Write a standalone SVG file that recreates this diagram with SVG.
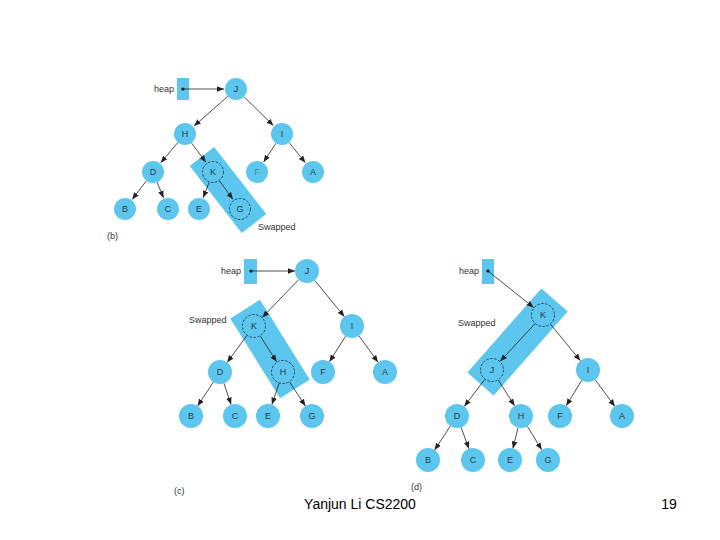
<svg xmlns="http://www.w3.org/2000/svg" width="720" height="540" viewBox="0 0 720 540">
<style>
.n{fill:#5cc6ef}
.sw{fill:#5cc6ef}
.dc{fill:#5cc6ef;stroke:#1a2a33;stroke-width:0.8;stroke-dasharray:2.5 1.5}
.t{font-family:"Liberation Sans",Arial,sans-serif;font-size:9px;fill:#2a3a44;text-anchor:middle}
.lb{font-family:"Liberation Sans",Arial,sans-serif;font-size:9px;fill:#333}
.e line{stroke:#222;stroke-width:0.8;marker-end:url(#ah)}
.hb{fill:#5cc6ef}
.foot{font-family:"Liberation Sans",Arial,sans-serif;font-size:14px;fill:#000}
</style>
<defs>
<marker id="ah" viewBox="0 0 10 10" refX="10" refY="5" markerWidth="7" markerHeight="7" orient="auto" markerUnits="userSpaceOnUse">
<path d="M0,1 L10,5 L0,9 z" fill="#222"/>
</marker>
</defs>
<rect width="720" height="540" fill="#fff"/>

<!-- swapped highlight rectangles -->
<g id="swap-b"><rect class="sw" x="-42.5" y="-15.5" width="85" height="31" transform="translate(228,190) rotate(52.2)"/></g>
<g id="swap-c"><rect class="sw" x="-47" y="-17.5" width="94" height="35" transform="translate(270,349) rotate(58)"/></g>
<g id="swap-d"><rect class="sw" x="-56" y="-17.5" width="112" height="35" transform="translate(517.5,342) rotate(-48.6)"/></g>

<!-- heap boxes -->
<g id="heap-b"><rect class="hb" x="177" y="78" width="12" height="22"/><circle cx="183" cy="89" r="1.6" fill="#111"/><text class="lb" x="174" y="92" text-anchor="end">heap</text></g>
<g id="heap-c"><rect class="hb" x="244" y="259" width="13" height="25"/><circle cx="251" cy="271" r="1.6" fill="#111"/><text class="lb" x="241" y="274" text-anchor="end">heap</text></g>
<g id="heap-d"><rect class="hb" x="482" y="259" width="12" height="25"/><circle cx="488" cy="271" r="1.6" fill="#111"/><text class="lb" x="479" y="274" text-anchor="end">heap</text></g>

<g id="connectors" class="e">
<!-- (b) -->
<line x1="183" y1="89" x2="224" y2="89"/>
<line x1="227.8" y1="96.3" x2="194" y2="126.1"/>
<line x1="243.9" y1="96.7" x2="273.4" y2="125.6"/>
<line x1="177.9" y1="142.4" x2="160.7" y2="162.8"/>
<line x1="191.5" y1="142.9" x2="205.9" y2="162.3"/>
<line x1="276" y1="143.2" x2="263.6" y2="162"/>
<line x1="289" y1="142.5" x2="305.4" y2="162.7"/>
<line x1="146.4" y1="180.8" x2="132.2" y2="199.4"/>
<line x1="157.1" y1="182.2" x2="163.5" y2="197.9"/>
<line x1="209.1" y1="182.3" x2="203.2" y2="197.8"/>
<line x1="219.5" y1="180.9" x2="232.9" y2="199.3"/>
<!-- (c) -->
<line x1="251" y1="271" x2="295" y2="271"/>
<line x1="298.7" y1="279.6" x2="262.3" y2="317.4"/>
<line x1="314.6" y1="280.3" x2="344.4" y2="316.7"/>
<line x1="246.9" y1="335.6" x2="227.1" y2="362.4"/>
<line x1="260.4" y1="336.2" x2="276.6" y2="361.8"/>
<line x1="345.6" y1="336.2" x2="329.4" y2="361.8"/>
<line x1="359" y1="335.8" x2="378" y2="362.2"/>
<line x1="213.4" y1="382" x2="197.6" y2="406"/>
<line x1="223.9" y1="383.4" x2="231.1" y2="404.6"/>
<line x1="279.1" y1="383.4" x2="271.9" y2="404.6"/>
<line x1="289.6" y1="382" x2="305.4" y2="406"/>
<!-- (d) -->
<line x1="488" y1="271" x2="533.6" y2="307.5"/>
<line x1="534.8" y1="323.8" x2="500.2" y2="361.2"/>
<line x1="550.6" y1="324.3" x2="580.4" y2="360.7"/>
<line x1="484.7" y1="379.6" x2="464.3" y2="406.4"/>
<line x1="498.4" y1="380.2" x2="514.6" y2="405.8"/>
<line x1="581.8" y1="380.2" x2="566.2" y2="405.8"/>
<line x1="595.1" y1="379.6" x2="614.9" y2="406.4"/>
<line x1="450.4" y1="426" x2="434.6" y2="450"/>
<line x1="461.1" y1="427.3" x2="468.9" y2="448.7"/>
<line x1="518.1" y1="427.6" x2="512.9" y2="448.4"/>
<line x1="527.3" y1="426.2" x2="541.7" y2="449.8"/>
</g>

<!-- nodes (b) -->
<g id="b-J"><circle class="n" cx="236" cy="89" r="11"/><text class="t" x="236" y="92">J</text></g>
<g id="b-H"><circle class="n" cx="185" cy="134" r="11"/><text class="t" x="185" y="137">H</text></g>
<g id="b-I"><circle class="n" cx="282" cy="134" r="11"/><text class="t" x="282" y="137">I</text></g>
<g id="b-D"><circle class="n" cx="153" cy="172" r="11"/><text class="t" x="153" y="175">D</text></g>
<g id="b-K"><circle class="dc" cx="213" cy="172" r="10.5"/><text class="t" x="213" y="175">K</text></g>
<g id="b-F"><circle class="n" cx="257" cy="172" r="11"/><text class="t" x="257" y="175" fill-opacity="0.5">F</text></g>
<g id="b-A"><circle class="n" cx="313" cy="172" r="11"/><text class="t" x="313" y="175">A</text></g>
<g id="b-B"><circle class="n" cx="125" cy="209" r="11"/><text class="t" x="125" y="212">B</text></g>
<g id="b-C"><circle class="n" cx="168" cy="209" r="11"/><text class="t" x="168" y="212">C</text></g>
<g id="b-E"><circle class="n" cx="199" cy="209" r="11"/><text class="t" x="199" y="212">E</text></g>
<g id="b-G"><circle class="dc" cx="240" cy="209" r="10.5"/><text class="t" x="240" y="212">G</text></g>

<!-- nodes (c) -->
<g id="c-J"><circle class="n" cx="307" cy="271" r="12"/><text class="t" x="307" y="274">J</text></g>
<g id="c-K"><circle class="dc" cx="254" cy="326" r="11.5"/><text class="t" x="254" y="329">K</text></g>
<g id="c-I"><circle class="n" cx="352" cy="326" r="12"/><text class="t" x="352" y="329">I</text></g>
<g id="c-D"><circle class="n" cx="220" cy="372" r="12"/><text class="t" x="220" y="375">D</text></g>
<g id="c-H"><circle class="dc" cx="283" cy="372" r="11.5"/><text class="t" x="283" y="375">H</text></g>
<g id="c-F"><circle class="n" cx="323" cy="372" r="12"/><text class="t" x="323" y="375">F</text></g>
<g id="c-A"><circle class="n" cx="385" cy="372" r="12"/><text class="t" x="385" y="375">A</text></g>
<g id="c-B"><circle class="n" cx="191" cy="416" r="12"/><text class="t" x="191" y="419">B</text></g>
<g id="c-C"><circle class="n" cx="235" cy="416" r="12"/><text class="t" x="235" y="419">C</text></g>
<g id="c-E"><circle class="n" cx="268" cy="416" r="12"/><text class="t" x="268" y="419">E</text></g>
<g id="c-G"><circle class="n" cx="312" cy="416" r="12"/><text class="t" x="312" y="419">G</text></g>

<!-- nodes (d) -->
<g id="d-K"><circle class="dc" cx="543" cy="315" r="11.5"/><text class="t" x="543" y="318">K</text></g>
<g id="d-J"><circle class="dc" cx="492" cy="370" r="11.5"/><text class="t" x="492" y="373">J</text></g>
<g id="d-I"><circle class="n" cx="588" cy="370" r="12"/><text class="t" x="588" y="373">I</text></g>
<g id="d-D"><circle class="n" cx="457" cy="416" r="12"/><text class="t" x="457" y="419">D</text></g>
<g id="d-H"><circle class="n" cx="521" cy="416" r="12"/><text class="t" x="521" y="419">H</text></g>
<g id="d-F"><circle class="n" cx="560" cy="416" r="12"/><text class="t" x="560" y="419">F</text></g>
<g id="d-A"><circle class="n" cx="622" cy="416" r="12"/><text class="t" x="622" y="419">A</text></g>
<g id="d-B"><circle class="n" cx="428" cy="460" r="12"/><text class="t" x="428" y="463">B</text></g>
<g id="d-C"><circle class="n" cx="473" cy="460" r="12"/><text class="t" x="473" y="463">C</text></g>
<g id="d-E"><circle class="n" cx="510" cy="460" r="12"/><text class="t" x="510" y="463">E</text></g>
<g id="d-G"><circle class="n" cx="548" cy="460" r="12"/><text class="t" x="548" y="463">G</text></g>

<!-- labels -->
<text class="lb" x="258" y="230">Swapped</text>
<text class="lb" x="189" y="323">Swapped</text>
<text class="lb" x="458" y="326">Swapped</text>
<text class="lb" x="107" y="239">(b)</text>
<text class="lb" x="174" y="494">(c)</text>
<text class="lb" x="411" y="490">(d)</text>

<text class="foot" x="360" y="509" text-anchor="middle">Yanjun Li CS2200</text>
<text class="foot" x="669" y="509" text-anchor="middle">19</text>
</svg>
